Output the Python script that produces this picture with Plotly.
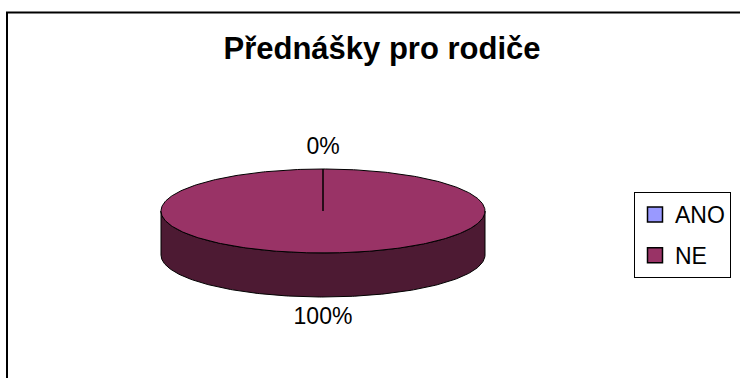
import numpy as np
import plotly.graph_objects as go

# ---- data ----
categories = ["ANO", "NE"]
values = [0, 100]
top_colors = ["#9999FF", "#993366"]
side_colors = ["#4D4D80", "#4D1A33"]
title_text = "Přednášky pro rodiče"

# ---- geometry (pixel space) ----
W, H = 740, 378
cx, cy = 323, 211
rx, ry = 162, 42
depth = 44
label_gap = 21

total = sum(values)
fig = go.Figure()

def pt(theta_deg, dy=0.0):
    t = np.radians(theta_deg)
    return cx + rx * np.sin(t), cy - ry * np.cos(t) + dy

# slice angle ranges, clockwise from 12 o'clock
bounds = []
acc = 0.0
for v in values:
    a0 = acc / total * 360
    acc += v
    a1 = acc / total * 360
    bounds.append((a0, a1))

# sides (front half: 90..270)
for (a0, a1), sc in zip(bounds, side_colors):
    s0, s1 = max(a0, 90), min(a1, 270)
    if s1 <= s0:
        continue
    th = np.linspace(s0, s1, 200)
    xs_top, ys_top = pt(th)
    xs_bot, ys_bot = pt(th[::-1], depth)
    xs = np.concatenate([xs_top, xs_bot, xs_top[:1]])
    ys = np.concatenate([ys_top, ys_bot, ys_top[:1]])
    fig.add_trace(go.Scatter(x=xs, y=ys, mode="lines", fill="toself",
                             fillcolor=sc, line=dict(color="black", width=1),
                             hoverinfo="skip", showlegend=False))

# tops
for (a0, a1), tc in zip(bounds, top_colors):
    th = np.linspace(a0, a1, 400)
    ax, ay = pt(th)
    xs = np.concatenate([[cx], ax, [cx]])
    ys = np.concatenate([[cy], ay, [cy]])
    fig.add_trace(go.Scatter(x=xs, y=ys, mode="lines", fill="toself",
                             fillcolor=tc, line=dict(color="black", width=1),
                             hoverinfo="skip", showlegend=False))

# percent labels
lx, ly, lt = [], [], []
for (a0, a1), v in zip(bounds, values):
    mid = (a0 + a1) / 2
    px, py = pt(mid)
    t = np.radians(mid)
    if np.cos(t) >= 0:
        py = py - label_gap
    else:
        py = py + depth + label_gap
    lx.append(px)
    ly.append(py)
    lt.append(f"{round(v / total * 100)}%")
fig.add_trace(go.Scatter(x=lx, y=ly, text=lt, mode="text",
                         textfont=dict(family="Liberation Sans, Arial", size=23, color="black"),
                         hoverinfo="skip", showlegend=False))

# legend entries
for name, c in zip(categories, top_colors):
    fig.add_trace(go.Scatter(x=[None], y=[None], mode="markers", name=name,
                             legendgroup=name,
                             marker=dict(symbol="square", size=15, color=c,
                                         line=dict(color="black", width=1.5))))

fig.update_layout(
    width=W, height=H,
    margin=dict(l=0, r=0, t=0, b=0),
    paper_bgcolor="white", plot_bgcolor="white",
    xaxis=dict(range=[0, W], visible=False, fixedrange=True),
    yaxis=dict(range=[H, 0], visible=False, fixedrange=True),
    title=dict(text=f"<b>{title_text}</b>", x=382 / W, y=1 - 48 / H,
               xanchor="center", yanchor="middle",
               font=dict(family="Liberation Sans, Arial", size=31, color="black")),
    legend=dict(x=634 / W, y=1 - 192 / H, xanchor="left", yanchor="top",
                bordercolor="black", borderwidth=1, bgcolor="white",
                font=dict(family="Liberation Sans, Arial", size=23, color="black"),
                itemsizing="trace", tracegroupgap=8),
    shapes=[dict(type="rect", xref="paper", yref="paper",
                 x0=7 / W, x1=1.05, y0=-0.05, y1=1 - 12.5 / H,
                 line=dict(color="black", width=2), fillcolor="rgba(0,0,0,0)",
                 layer="below")],
    showlegend=True,
)

fig.write_html("out.html", config={"displayModeBar": False},
               post_script="document.body.style.margin='0px';document.body.style.overflow='hidden';")
